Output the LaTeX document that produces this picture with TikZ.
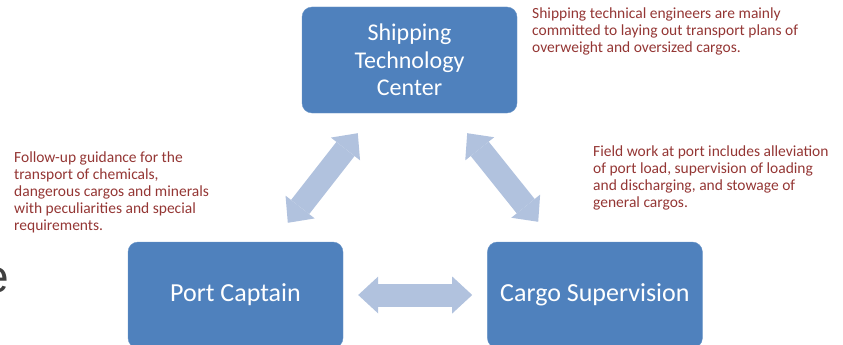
\documentclass[tikz,border=0pt]{standalone}
\usepackage{fontspec}
\setmainfont{Carlito}
\newfontfamily\slidefont{Liberation Sans}
\usetikzlibrary{arrows.meta,positioning}
\definecolor{boxblue}{HTML}{4F81BD}
\definecolor{arrowblue}{HTML}{B1C2DE}
\definecolor{notered}{HTML}{943634}
\tikzset{
rolebox/.style = {rectangle, rounded corners=10pt, fill=boxblue, draw=boxblue!85!white, text=white,
align=center, minimum width=215pt, minimum height=106pt, inner sep=0pt},% boite de role
rolenote/.style = {align=left, inner sep=0pt, text=notered, anchor=north west,
font=\fontsize{15.5}{17}\selectfont},% note rouge
linkarrow/.style = {draw=arrowblue, line width=23pt,
{Triangle[length=20pt,width=37pt,line width=0pt]}-{Triangle[length=20pt,width=37pt,line width=0pt]}}% double fleche pleine
}
\begin{document}
\begin{tikzpicture}[x=1pt,y=-1pt]
	\useasboundingbox (0,0) rectangle (843,345);
	\node [rolebox, font=\fontsize{24}{27.5}\selectfont] (stc) at (409.5,60) {Shipping\\Technology\\Center};
	\node [rolebox, font=\fontsize{26}{30}\selectfont] (port) at (235.5,295) {Port Captain};
	\node [rolebox, font=\fontsize{26}{30}\selectfont, right=144pt of port] (cargo) {Cargo Supervision};
	\draw [linkarrow] ([xshift=160pt,yshift=19pt]port.north west) -- ([xshift=56pt,yshift=-20pt]stc.south west);
	\draw [linkarrow] ([xshift=-50pt,yshift=-20pt]stc.south east) -- ([xshift=51pt,yshift=20pt]cargo.north west);
	\draw [linkarrow] ([xshift=15pt]port.east) -- ([xshift=-15pt]cargo.west);
	\node [rolenote] (stcnote) at (532,8) {Shipping technical engineers are mainly\\committed to laying out transport plans of\\overweight and oversized cargos.};
	\node [rolenote] (portnote) at (14,152) {Follow-up guidance for the\\transport of chemicals,\\dangerous cargos and minerals\\with peculiarities and special\\requirements.};
	\node [rolenote] (cargonote) at (593,146) {Field work at port includes alleviation\\of port load, supervision of loading\\and discharging, and stowage of\\general cargos.};
	\node [font=\slidefont\fontsize{46}{50}\selectfont, text=black!75, inner sep=0pt, anchor=base east] (cut) at (9,292) {e};
\end{tikzpicture}
\end{document}
